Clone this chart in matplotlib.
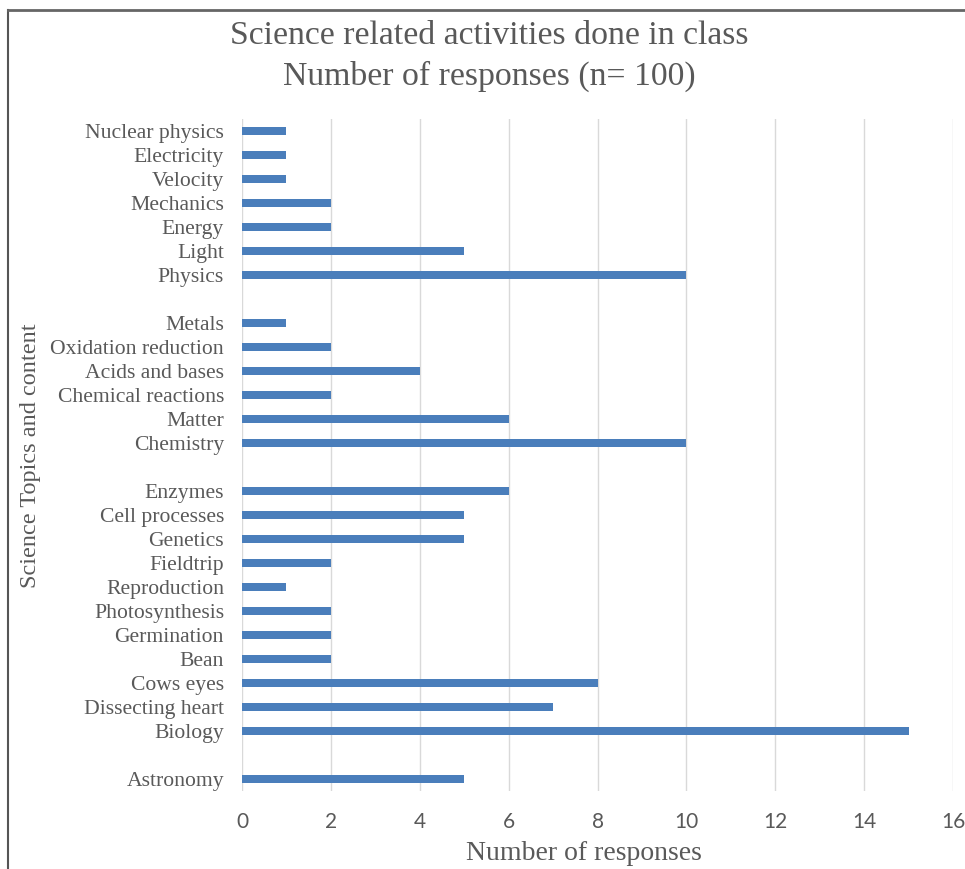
import matplotlib.pyplot as plt
from matplotlib.lines import Line2D

# groups listed top to bottom as they appear in the chart
physics_labels = ["Nuclear physics", "Electricity", "Velocity", "Mechanics", "Energy", "Light", "Physics"]
physics_values = [1, 1, 1, 2, 2, 5, 10]

chemistry_labels = ["Metals", "Oxidation reduction", "Acids and bases", "Chemical reactions", "Matter", "Chemistry"]
chemistry_values = [1, 2, 4, 2, 6, 10]

biology_labels = ["Enzymes", "Cell processes", "Genetics", "Fieldtrip", "Reproduction", "Photosynthesis",
                  "Germination", "Bean", "Cows eyes", "Dissecting heart", "Biology"]
biology_values = [6, 5, 5, 2, 1, 2, 2, 2, 8, 7, 15]

astronomy_labels = ["Astronomy"]
astronomy_values = [5]

x_ticks = [0, 2, 4, 6, 8, 10, 12, 14, 16]

# build rows with an empty row between groups
groups = [(physics_labels, physics_values), (chemistry_labels, chemistry_values),
          (biology_labels, biology_values), (astronomy_labels, astronomy_values)]
labels = []
values = []
for gi, (lab, val) in enumerate(groups):
    if gi > 0:
        labels.append("")
        values.append(None)
    labels += lab
    values += val

pos = list(range(len(labels)))
bar_pos = [p for p, v in zip(pos, values) if v is not None]
bar_val = [v for v in values if v is not None]

text_col = "#595959"
serif = "Liberation Serif"

fig = plt.figure(figsize=(9.65, 8.69), dpi=100)
ax = fig.add_axes([0.2508, 0.0898, 0.9876 - 0.2508, 0.863 - 0.0898])

ax.barh(bar_pos, bar_val, height=0.36, color="#4a7ebb", zorder=3)

ax.set_ylim(len(labels) - 0.5, -0.5)
ax.set_xlim(0, 16)
ax.set_yticks(pos)
ax.set_yticklabels(labels, fontfamily=serif, fontsize=15.6, color=text_col)
ax.set_xticks(x_ticks)
ax.set_xticklabels([str(t) for t in x_ticks], fontfamily="Lato", fontsize=15, color=text_col)
ax.tick_params(axis="both", length=0)
ax.tick_params(axis="x", pad=15)
ax.tick_params(axis="y", pad=13)
ax.grid(axis="x", color="#d9d9d9", linewidth=1, zorder=0)
for s in ax.spines.values():
    s.set_visible(False)

fig.text(0.0311, 0.476, "Science Topics and content", rotation=90, ha="center", va="center",
         fontfamily=serif, fontsize=17.5, color=text_col)
fig.text(0.6047, 0.0184, "Number of responses", ha="center", va="center",
         fontfamily=serif, fontsize=20, color=text_col)
fig.text(0.507, 0.935, "Science related activities done in class\nNumber of responses (n= 100)",
         ha="center", va="center", fontfamily=serif, fontsize=24.3, color=text_col, linespacing=1.4)

# partial frame around the chart (top and left edges)
fig.add_artist(Line2D([8 / 965, 8 / 965], [0, 1 - 10 / 869], transform=fig.transFigure, color="#555555", lw=1.5))
fig.add_artist(Line2D([8 / 965, 1], [1 - 10 / 869, 1 - 10 / 869], transform=fig.transFigure, color="#666666", lw=2))

fig.savefig("out.png", dpi=100)
